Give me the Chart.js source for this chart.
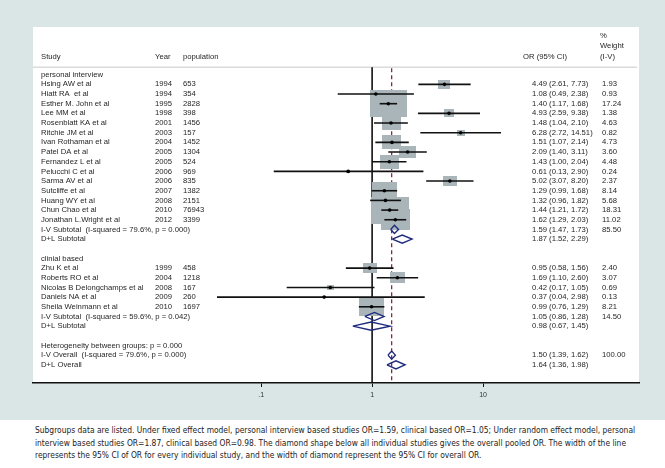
<!DOCTYPE html>
<html>
<head>
<meta charset="utf-8">
<script src="https://cdn.jsdelivr.net/npm/chart.js@4"></script>
<style>
  body { margin: 0; background: #fff; width: 665px; height: 468px; overflow: hidden; }
  #wrap { position: absolute; left: 0; top: 0; width: 665px; height: 420px; background: #dae5e5; }
  #cap { position: absolute; left: 35px; top: 424px; font: 8.4px "Liberation Sans Narrow", "DejaVu Sans Condensed", Arial, sans-serif;
         line-height: 12.7px; color: #222; white-space: nowrap; }
</style>
</head>
<body>
<div id="wrap"><canvas id="forest" width="665" height="420"></canvas></div>
<div id="cap">Subgroups data are listed. Under fixed effect model, personal interview based studies OR=1.59, clinical based OR=1.05; Under random effect model, personal<br>interview based studies OR=1.87, clinical based OR=0.98. The diamond shape below all individual studies gives the overall pooled OR. The width of the line<br>represents the 95% CI of OR for every individual study, and the width of diamond represent the 95% CI for overall OR.</div>
<script>
// individual studies
const studyNames = ['Hsing AW et al', 'Hiatt RA  et al', 'Esther M. John et al', 'Lee MM et al', 'Rosenblatt KA et al',
  'Ritchie JM et al', 'Ivan Rothaman et al', 'Patel DA et al', 'Fernandez L et al', 'Pelucchi C et al',
  'Sarma AV et al', 'Sutcliffe et al', 'Huang WY et al', 'Chun Chao et al', 'Jonathan L.Wright et al',
  'Zhu K et al', 'Roberts RO et al', 'Nicolas B Delongchamps et al', 'Daniels NA et al', 'Sheila Weinmann et al'];
const studyYears = [1994, 1994, 1995, 1998, 2001, 2003, 2004, 2005, 2005, 2006, 2006, 2007, 2008, 2010, 2012,
  1999, 2004, 2008, 2009, 2010];
const studyPop = [653, 354, 2828, 398, 1456, 157, 1452, 1304, 524, 969, 835, 1382, 2151, 76943, 3399,
  458, 1218, 167, 260, 1697];
const studyOR = [4.49, 1.08, 1.40, 4.93, 1.48, 6.28, 1.51, 2.09, 1.43, 0.61, 5.02, 1.29, 1.32, 1.44, 1.62,
  0.95, 1.69, 0.42, 0.37, 0.99];
const studyLo = [2.61, 0.49, 1.17, 2.59, 1.04, 2.72, 1.07, 1.40, 1.00, 0.13, 3.07, 0.99, 0.96, 1.21, 1.29,
  0.58, 1.10, 0.17, 0.04, 0.76];
const studyHi = [7.73, 2.38, 1.68, 9.38, 2.10, 14.51, 2.14, 3.11, 2.04, 2.90, 8.20, 1.68, 1.82, 1.72, 2.03,
  1.56, 2.60, 1.05, 2.98, 1.29];
const studyWeight = [1.93, 0.93, 17.24, 1.38, 4.63, 0.82, 4.73, 3.60, 4.48, 0.24, 2.37, 8.14, 5.68, 18.31, 11.02,
  2.40, 3.07, 0.69, 0.13, 8.21];
const studyRows = [1, 2, 3, 4, 5, 6, 7, 8, 9, 10, 11, 12, 13, 14, 15, 20, 21, 22, 23, 24];

// subgroup headings
const groupLabels = ['personal interview', 'clinial based'];
const groupRows = [0, 19];

// pooled estimates (diamonds)
const pooledLabels = ['I-V Subtotal  (I-squared = 79.6%, p = 0.000)', 'D+L Subtotal',
  'I-V Subtotal  (I-squared = 59.6%, p = 0.042)', 'D+L Subtotal',
  'I-V Overall  (I-squared = 79.6%, p = 0.000)', 'D+L Overall'];
const pooledRows = [16, 17, 25, 26, 29, 30];
const pooledOR = [1.59, 1.87, 1.05, 0.98, 1.50, 1.64];
const pooledLo = [1.47, 1.52, 0.86, 0.67, 1.39, 1.36];
const pooledHi = [1.73, 2.29, 1.28, 1.45, 1.62, 1.98];
const pooledWeight = ['85.50', '', '14.50', '', '100.00', ''];

const hetLabel = 'Heterogeneity between groups: p = 0.000';
const hetRow = 28;

// x axis
const xTicks = [0.1, 1, 10];
const xTickLabels = ['.1', '1', '10'];

const headerRow = -0.78;
const fmt = v => v.toFixed(2);

// grey weight boxes, wider than tall like the stretched original
function boxImage(wt) {
  const c = document.createElement('canvas');
  c.width = Math.max(2, Math.round(8.8 * Math.sqrt(wt)));
  c.height = Math.max(2, Math.round(6.4 * Math.sqrt(wt)));
  const g = c.getContext('2d');
  g.fillStyle = '#a9b5b9';
  g.fillRect(0, 0, c.width, c.height);
  return c;
}
const boxImgs = studyWeight.map(boxImage);

const datasets = [];

// diamonds on top
pooledRows.forEach((r, i) => {
  datasets.push({
    showLine: true,
    data: [
      { x: pooledLo[i], y: r }, { x: pooledOR[i], y: r - 0.42 }, { x: pooledHi[i], y: r },
      { x: pooledOR[i], y: r + 0.42 }, { x: pooledLo[i], y: r }
    ],
    borderColor: '#1f2b7d',
    borderWidth: 1.4,
    pointRadius: 0,
    tension: 0
  });
});

// point estimates
datasets.push({
  data: studyRows.map((r, i) => ({ x: studyOR[i], y: r })),
  pointStyle: 'circle',
  pointRadius: 1.8,
  backgroundColor: '#000',
  borderColor: '#000',
  borderWidth: 0
});

// confidence intervals
studyRows.forEach((r, i) => {
  datasets.push({
    showLine: true,
    data: [{ x: studyLo[i], y: r }, { x: studyHi[i], y: r }],
    borderColor: '#111',
    borderWidth: 1.6,
    pointRadius: 0
  });
});

// weight boxes underneath
datasets.push({
  data: studyRows.map((r, i) => ({ x: studyOR[i], y: r })),
  pointStyle: ctx => boxImgs[ctx.dataIndex],
  pointRadius: 3
});

const forestBits = {
  id: 'forestBits',
  beforeDraw(chart) {
    const { ctx, chartArea: a } = chart;
    ctx.save();
    ctx.fillStyle = '#fff';
    ctx.fillRect(a.left, a.top, a.right - a.left, a.bottom - a.top);
    ctx.restore();
  },
  beforeDatasetsDraw(chart) {
    const { ctx, chartArea: a, scales: { x, y } } = chart;
    const top = y.getPixelForValue(headerRow);
    ctx.save();
    ctx.strokeStyle = '#c8c8c8';
    ctx.lineWidth = 1;
    ctx.beginPath();
    ctx.moveTo(a.left, top);
    ctx.lineTo(a.right - 2, top);
    ctx.stroke();

    const x1 = x.getPixelForValue(1);
    ctx.strokeStyle = '#000';
    ctx.lineWidth = 1.5;
    ctx.beginPath();
    ctx.moveTo(x1, top);
    ctx.lineTo(x1, a.bottom);
    ctx.stroke();

    const xd = x.getPixelForValue(pooledOR[4]);
    ctx.strokeStyle = '#8a2448';
    ctx.lineWidth = 1.3;
    ctx.setLineDash([4, 3]);
    ctx.beginPath();
    ctx.moveTo(xd, top + 1);
    ctx.lineTo(xd, a.bottom);
    ctx.stroke();
    ctx.restore();
  },
  afterDraw(chart) {
    const { ctx, scales: { y } } = chart;
    const py = r => y.getPixelForValue(r);
    ctx.save();
    ctx.font = '7.7px Arial, "Liberation Sans", sans-serif';
    ctx.fillStyle = '#262626';
    ctx.textBaseline = 'middle';
    ctx.textAlign = 'left';

    // headers
    ctx.fillText('Study', 41, py(-1.85));
    ctx.fillText('Year', 155, py(-1.85));
    ctx.fillText('population', 183, py(-1.85));
    ctx.fillText('OR (95% CI)', 523, py(-1.85));
    ctx.fillText('%', 600, py(-4.0));
    ctx.fillText('Weight', 600, py(-2.95));
    ctx.fillText('(I-V)', 600, py(-1.85));

    groupLabels.forEach((t, i) => ctx.fillText(t, 41, py(groupRows[i])));
    studyRows.forEach((r, i) => {
      ctx.fillText(studyNames[i], 41, py(r));
      ctx.fillText(String(studyYears[i]), 155, py(r));
      ctx.fillText(String(studyPop[i]), 183, py(r));
      ctx.fillText(`${fmt(studyOR[i])} (${fmt(studyLo[i])}, ${fmt(studyHi[i])})`, 532, py(r));
      ctx.fillText(fmt(studyWeight[i]), 602, py(r));
    });
    pooledRows.forEach((r, i) => {
      ctx.fillText(pooledLabels[i], 41, py(r));
      ctx.fillText(`${fmt(pooledOR[i])} (${fmt(pooledLo[i])}, ${fmt(pooledHi[i])})`, 532, py(r));
      if (pooledWeight[i]) ctx.fillText(pooledWeight[i], 602, py(r));
    });
    ctx.fillText(hetLabel, 41, py(hetRow));
    ctx.restore();
  }
};

new Chart(document.getElementById('forest'), {
  type: 'scatter',
  data: { datasets },
  options: {
    responsive: false,
    animation: false,
    events: [],
    layout: { padding: { left: 33, right: 26, top: 27, bottom: 19 } },
    plugins: { legend: { display: false }, tooltip: { enabled: false } },
    scales: {
      x: {
        type: 'logarithmic',
        min: 0.00088,
        max: 254,
        grid: { display: true, drawOnChartArea: false, drawTicks: true, tickLength: 4, color: '#111', lineWidth: 1 },
        border: { display: true, color: '#111', width: 1.5 },
        ticks: {
          autoSkip: false,
          maxRotation: 0,
          padding: 4,
          color: '#333',
          font: { size: 7, family: 'Arial' },
          callback: v => {
            const i = xTicks.indexOf(v);
            return i >= 0 ? xTickLabels[i] : '';
          }
        },
        afterBuildTicks: s => { s.ticks = xTicks.map(v => ({ value: v })); },
        afterFit: s => { s.height = 18; }
      },
      y: { type: 'linear', reverse: true, min: -4.93, max: 31.88, display: false }
    }
  },
  plugins: [forestBits]
});
</script>
</body>
</html>
